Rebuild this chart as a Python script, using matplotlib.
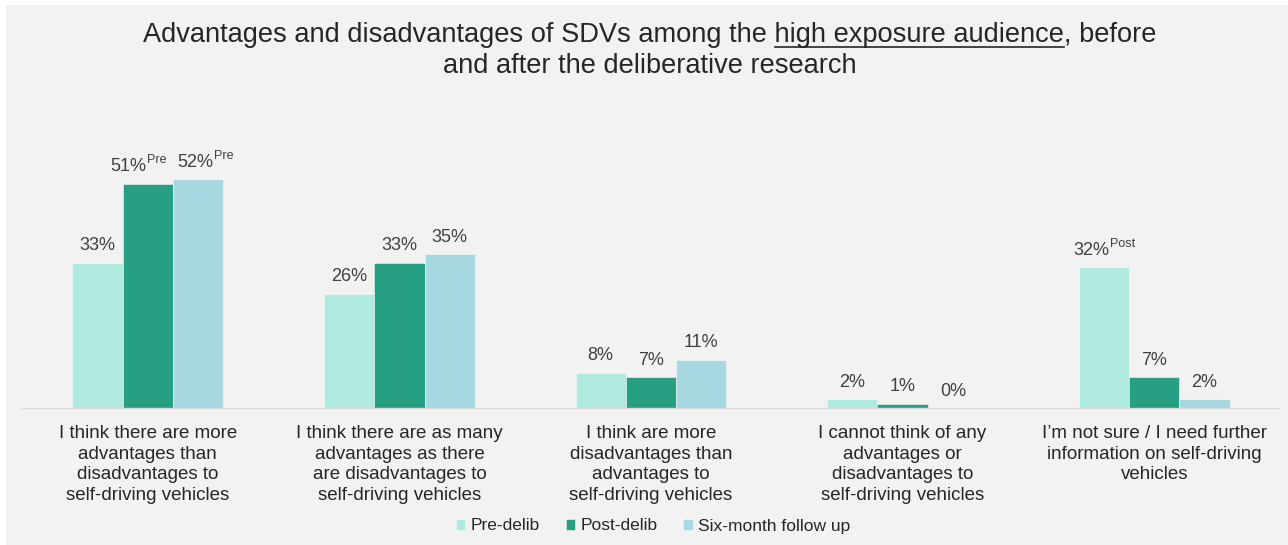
import numpy as np
import matplotlib.pyplot as plt
from matplotlib.patches import Rectangle
from matplotlib.lines import Line2D

plt.rcParams['font.family'] = ['Liberation Sans', 'DejaVu Sans']

categories = [
    "I think there are more\nadvantages than\ndisadvantages to\nself-driving vehicles",
    "I think there are as many\nadvantages as there\nare disadvantages to\nself-driving vehicles",
    "I think are more\ndisadvantages than\nadvantages to\nself-driving vehicles",
    "I cannot think of any\nadvantages or\ndisadvantages to\nself-driving vehicles",
    "I\u2019m not sure / I need further\ninformation on self-driving\nvehicles",
]
series = ["Pre-delib", "Post-delib", "Six-month follow up"]
pre_delib = [33, 26, 8, 2, 32]
post_delib = [51, 33, 7, 1, 7]
six_month = [52, 35, 11, 0, 2]
# significance markers shown as superscripts next to the value
pre_sig = ["", "", "", "", "Post"]
post_sig = ["Pre", "", "", "", ""]
six_sig = ["Pre", "", "", "", ""]

colors = ["#b0ebe0", "#279f82", "#a8d9e3"]
text_col = "#404040"
val_size = 13
sup_size = 9
# sideways nudge (points) for the crowded labels in the first group
nudge = {(1, 0): -7, (2, 0): 5}

fig = plt.figure(figsize=(12.88, 5.45), dpi=100, facecolor="white")
fig.patches.append(Rectangle((6 / 1288, 0), 1, 540 / 545, transform=fig.transFigure,
                             facecolor="#f2f2f2", edgecolor="none", zorder=-10))

ax = fig.add_axes([22 / 1288, 137 / 545, 1258 / 1288, 308 / 545])
ax.set_facecolor("none")
renderer = fig.canvas.get_renderer()


def text_width_pt(s, size):
    t = fig.text(0, 0, s, fontsize=size)
    wpx = t.get_window_extent(renderer).width
    t.remove()
    return wpx * 72 / fig.dpi


x = np.arange(len(categories))
w = 0.2
all_vals = [pre_delib, post_delib, six_month]
all_sig = [pre_sig, post_sig, six_sig]
for k, (vals, sigs) in enumerate(zip(all_vals, all_sig)):
    xs = x + (k - 1) * w
    ax.bar(xs, vals, width=w, color=colors[k], edgecolor="#f7f7f7", linewidth=0.4,
           label=series[k], zorder=2)
    for i, (xi, v, s) in enumerate(zip(xs, vals, sigs)):
        lab = f"{v}%"
        if not s:
            ax.annotate(lab, (xi, v), xytext=(0, 6), textcoords="offset points",
                        ha="center", va="bottom", fontsize=val_size, color=text_col)
            continue
        wm = text_width_pt(lab, val_size)
        ws = text_width_pt(s, sup_size)
        left = -(wm + ws + 0.5) / 2 + nudge.get((k, i), 0)
        ax.annotate(lab, (xi, v), xytext=(left, 6), textcoords="offset points",
                    ha="left", va="bottom", fontsize=val_size, color=text_col)
        ax.annotate(s, (xi, v), xytext=(left + wm + 0.5, 12.5), textcoords="offset points",
                    ha="left", va="bottom", fontsize=sup_size, color=text_col)

ax.set_xlim(-0.5, 4.5)
ax.set_ylim(0, 70)
ax.set_yticks([])
ax.set_xticks(x)
ax.set_xticklabels(categories, fontsize=13.5, color="#262626", linespacing=1.3)
ax.tick_params(axis="x", length=0, pad=12)
for side in ["left", "right", "top"]:
    ax.spines[side].set_visible(False)
ax.spines["bottom"].set_color("#d9d9d9")
ax.spines["bottom"].set_linewidth(1)

fig.legend(loc="center", bbox_to_anchor=(653 / 1288, 1 - 526 / 545), ncol=3,
           frameon=False, fontsize=12.5, handlelength=0.55, handleheight=0.55,
           handletextpad=0.3, columnspacing=1.5, labelcolor="#262626")

# title with underlined phrase
title1 = "Advantages and disadvantages of SDVs among the high exposure audience, before"
prefix = "Advantages and disadvantages of SDVs among the "
phrase = "high exposure audience"
tsize = 19.6
cx = 650 / 1288
t1 = fig.text(cx, 1 - 35 / 545, title1, ha="center", va="center", fontsize=tsize, color="#262626")
fig.text(cx, 1 - 66 / 545, "and after the deliberative research", ha="center", va="center",
         fontsize=tsize, color="#262626")

full_bb = t1.get_window_extent(renderer)
pre_w = text_width_pt(prefix.rstrip() + " ", tsize) * fig.dpi / 72
ph_w = text_width_pt(phrase, tsize) * fig.dpi / 72
x0 = full_bb.x0 + pre_w
uy = 1 - 46.5 / 545
fig.add_artist(Line2D([x0 / fig.bbox.width, (x0 + ph_w) / fig.bbox.width], [uy, uy],
                      transform=fig.transFigure, color="#262626", linewidth=1.2))

fig.savefig("out.png", dpi=100, facecolor=fig.get_facecolor())
